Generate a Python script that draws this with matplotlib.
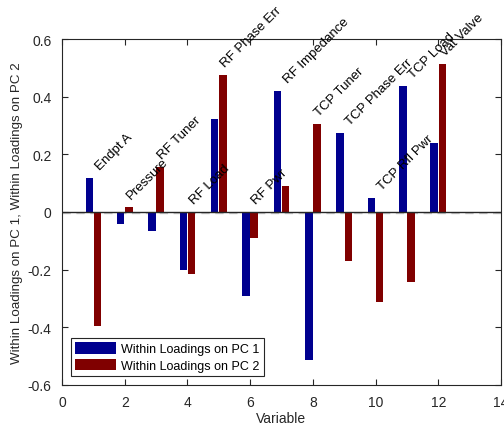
import numpy as np
import matplotlib
matplotlib.use('Agg')
import matplotlib.pyplot as plt

plt.rcParams['font.family'] = ['Liberation Sans', 'DejaVu Sans']
plt.rcParams['axes.unicode_minus'] = False

#--data
variables = ['Endpt A', 'Pressure', 'RF Tuner', 'RF Load', 'RF Phase Err', 'RF Pwr',
             'RF Impedance', 'TCP Tuner', 'TCP Phase Err', 'TCP Rfl Pwr', 'TCP Load', 'Vat Valve']
pc1 = [0.118, -0.040, -0.066, -0.201, 0.323, -0.291, 0.420, -0.513, 0.274, 0.049, 0.437, 0.239]
pc2 = [-0.394, 0.017, 0.157, -0.215, 0.475, -0.090, 0.090, 0.305, -0.170, -0.312, -0.243, 0.514]

x = np.arange(1, len(variables) + 1)

fig = plt.figure(figsize=(5.04, 4.27), dpi=100)
ax = fig.add_axes([62/504, 41/427, 439/504, 346/427])

w = 0.24
ax.bar(x - 0.13, pc1, width=w, color='#00008f', label='Within Loadings on PC 1', zorder=2)
ax.bar(x + 0.13, pc2, width=w, color='#800000', label='Within Loadings on PC 2', zorder=2)

ax.axhline(0, color='#262626', lw=1, zorder=3)
ax.plot([0, 14], [-0.003, -0.003], color='#c8c8c8', lw=1, ls=(0, (6, 4)), zorder=1)

#--variable names above each pair
for xi, name, a, b in zip(x, variables, pc1, pc2):
    top = max(0, a, b)
    ax.text(xi + 0.2, top + 0.027, name, rotation=45, rotation_mode='anchor',
            ha='left', va='baseline', fontsize=9.5, color='black', zorder=4)

ax.set_xlim(0, 14)
ax.set_ylim(-0.6, 0.6)
ax.set_xticks(np.arange(0, 15, 2))
ax.set_yticks(np.round(np.arange(-0.6, 0.61, 0.2), 1))
ax.set_yticklabels(['-0.6', '-0.4', '-0.2', '0', '0.2', '0.4', '0.6'])
ax.tick_params(direction='in', top=True, right=True, length=4, width=0.8,
               labelsize=10, colors='#262626', labelcolor='#262626')
ax.tick_params(axis='x', pad=7)
ax.tick_params(axis='y', pad=7.5)
for s in ax.spines.values():
    s.set_color('#262626')
    s.set_linewidth(0.8)

ax.set_xlabel('Variable', fontsize=10, color='#262626', labelpad=2)
ax.set_ylabel('Within Loadings on PC 1, Within Loadings on PC 2', fontsize=9.6,
              color='#262626', labelpad=3)

leg = ax.legend(loc='lower left', fontsize=9, handlelength=3.3, handleheight=1.0,
                fancybox=False, edgecolor='#262626', framealpha=1,
                borderaxespad=0.7, labelspacing=0.3, borderpad=0.35, handletextpad=0.35)
leg.get_frame().set_linewidth(0.8)

fig.savefig('out.png', dpi=100)
